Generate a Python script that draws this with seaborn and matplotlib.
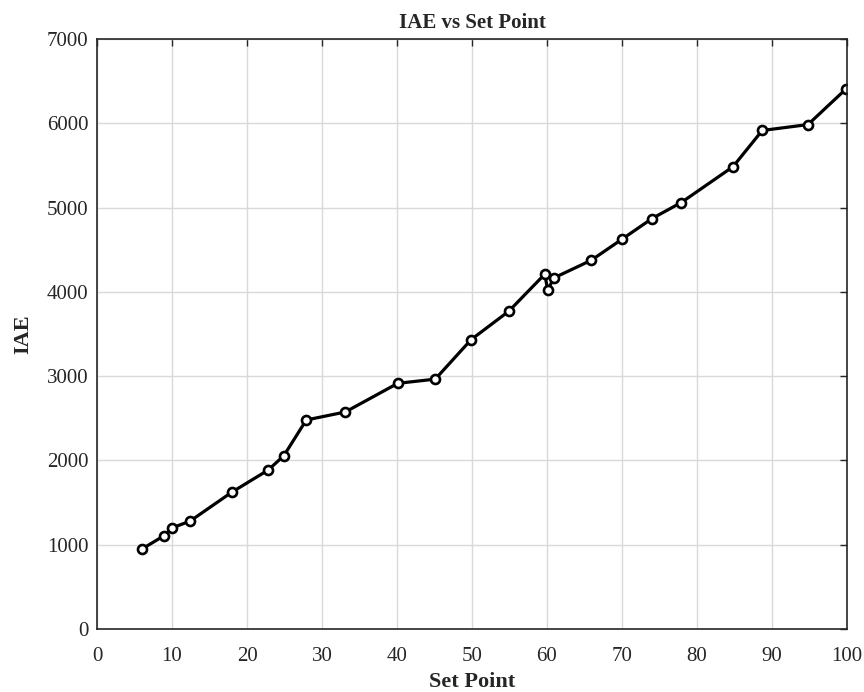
import pandas as pd
import matplotlib.pyplot as plt
import seaborn as sns

# =========================
# DATA
# =========================
set_point = [6.0, 8.9, 10.0, 12.4, 18.0, 22.8, 24.9, 27.9, 33.1, 40.1, 45.1, 49.9,
             54.9, 59.7, 60.1, 60.9, 65.9, 70.0, 74.0, 77.9, 84.8, 88.7, 94.8, 99.9]
iae = [950, 1105, 1200, 1280, 1625, 1885, 2055, 2480, 2575, 2915, 2965, 3435,
       3770, 4210, 4020, 4165, 4375, 4625, 4870, 5060, 5485, 5915, 5985, 6410]

df = pd.DataFrame({"Set Point": set_point, "IAE": iae})

sns.set_style("white")
plt.rcParams["font.family"] = ["Liberation Serif", "DejaVu Serif"]

fig = plt.figure(figsize=(8.64, 6.92), dpi=100)
ax = fig.add_axes([0.1123, 0.091, 0.868, 0.8526])

sns.lineplot(data=df, x="Set Point", y="IAE", ax=ax, sort=False, estimator=None,
             color="black", linewidth=2.3, marker="o", markersize=6.5,
             markerfacecolor="white", markeredgecolor="black", markeredgewidth=1.9)

ax.set_xlim(0, 100)
ax.set_ylim(0, 7000)
ax.set_xticks(range(0, 101, 10))
ax.set_yticks(range(0, 7001, 1000))
ax.grid(True, color="#d9d9d9", linewidth=1.0)
ax.tick_params(direction="in", top=True, right=True, labelsize=15, length=5,
               width=1.0, colors="#262626")
ax.tick_params(axis="x", pad=13)
ax.tick_params(axis="y", pad=6)
for s in ax.spines.values():
    s.set_linewidth(1.2)
    s.set_color("#262626")

ax.set_title("IAE vs Set Point", fontsize=15, fontweight="bold", pad=8)
ax.set_xlabel("Set Point", fontsize=16, fontweight="bold", labelpad=4)
ax.set_ylabel("IAE", fontsize=16, fontweight="bold", labelpad=10)

fig.savefig("out.png", dpi=100, facecolor="white")
